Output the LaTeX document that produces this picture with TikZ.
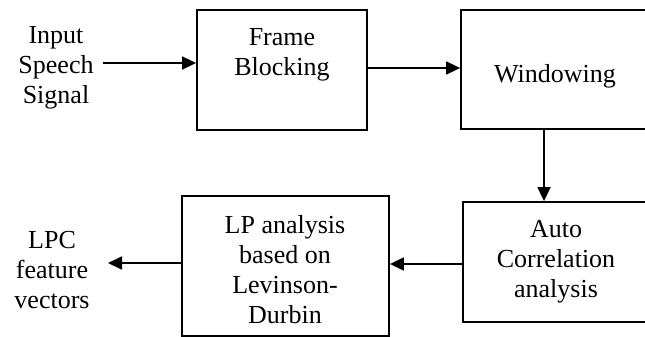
\documentclass[tikz,border=0pt]{standalone}
\usepackage{fontspec}
\setmainfont{Liberation Serif}
\usetikzlibrary{arrows.meta}
\begin{document}
\begin{tikzpicture}[x=1pt,y=-1pt,
  blk/.style={draw, line width=1.8pt, rectangle, inner sep=0pt},
  lbl/.style={align=center, inner sep=0pt, anchor=base, font=\fontsize{26}{30}\selectfont},
  arr/.style={line width=1.8pt, -{Triangle[length=14pt,width=13pt]}}]
\useasboundingbox (0,0) rectangle (645,337);
\clip (0,0) rectangle (645,337);
% boxes
\node[blk, minimum width=170pt, minimum height=120pt] (fb) at (282,70) {};
\node[blk, minimum width=194pt, minimum height=119pt] (win) at (558,69.5) {};
\node[blk, minimum width=192pt, minimum height=120pt] (auto) at (559,262) {};
\node[blk, minimum width=207pt, minimum height=140pt] (lp) at (285.5,266) {};
% labels
\node[lbl] (inp) at (56,103) {Input\\Speech\\Signal};
\node[lbl] (fbt) at (282,75) {Frame\\Blocking};
\node[lbl] (wint) at (555,82) {Windowing};
\node[lbl] (autot) at (556,297) {Auto\\Correlation\\analysis};
\node[lbl] (lpt) at (285,323) {LP analysis\\based on\\Levinson-\\Durbin};
\node[lbl] (lpc) at (52,308) {LPC\\feature\\vectors};
% connectors
\coordinate (a1) at (103,63);
\draw[arr] (a1) -- (a1 -| fb.west);
\draw[arr] (fb.east |- 0,68) -- (win.west |- 0,68);
\coordinate (c3) at (544,0);
\draw[arr] (win.south -| c3) -- (auto.north -| c3);
\draw[arr] (auto.west |- 0,264) -- (lp.east |- 0,264);
\coordinate (e5) at (108,263);
\draw[arr] (lp.west |- e5) -- (e5);
\end{tikzpicture}
\end{document}
